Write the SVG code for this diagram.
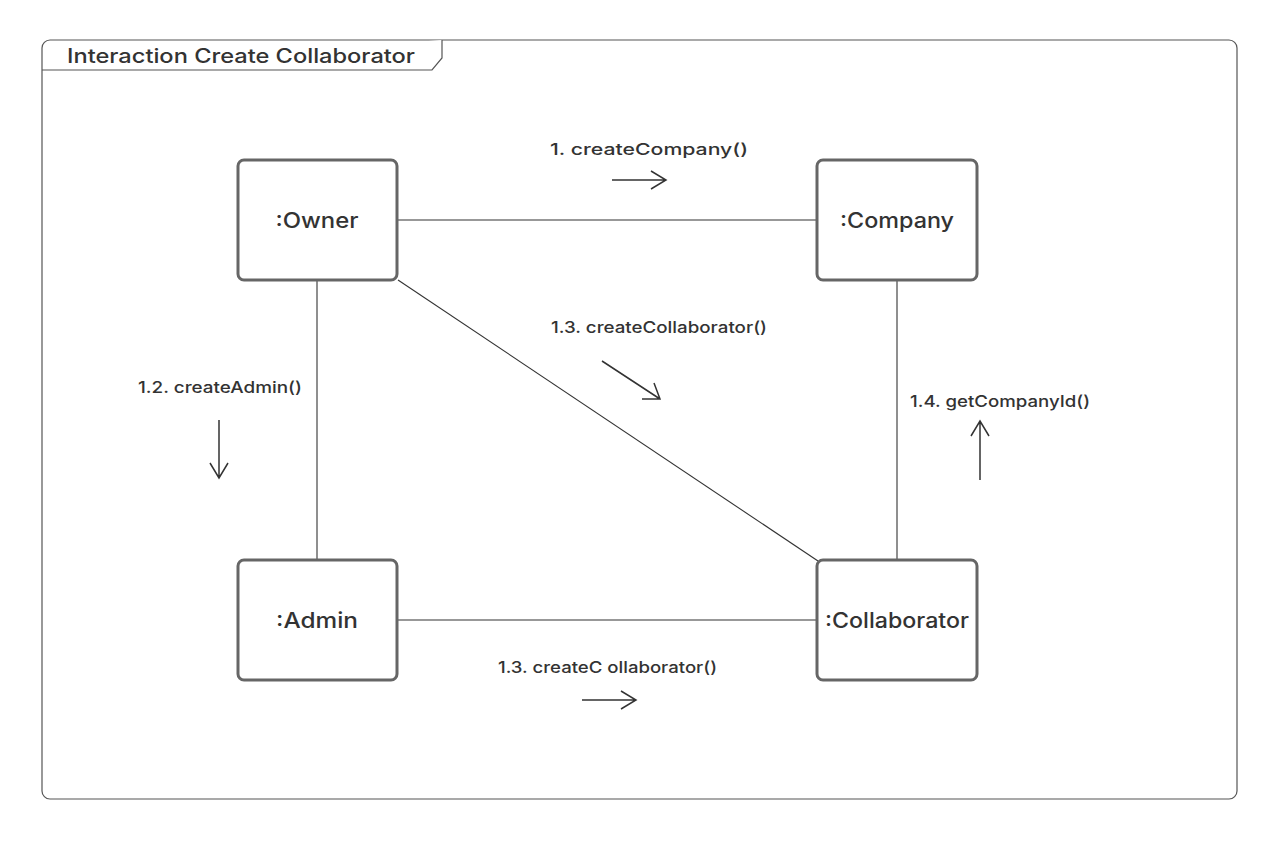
<svg xmlns="http://www.w3.org/2000/svg" width="1280" height="852" viewBox="0 0 1280 852">
<defs>
<style>
.frame{fill:#fff;stroke:#555;stroke-width:1.2}
.node{fill:#fff;stroke:#666;stroke-width:3}
.conn{stroke:#333;stroke-width:1.1;fill:none}
.arr{stroke:#333;stroke-width:1.5;fill:none}
.t{font-family:Inter,"Liberation Sans",sans-serif;fill:#333;font-weight:500}
.title{font-size:20px}
.nt{font-size:21px;text-anchor:middle}
.lbl{font-size:16px}
</style>
</defs>
<rect width="1280" height="852" fill="#fff"/>
<g id="frame">
<rect class="frame" x="42" y="40" width="1195" height="759" rx="8"/>
<path class="frame" d="M42,70 L432,70 L442,58 L442,40" fill="none"/>
<text class="t title" x="67" y="63" textLength="348" lengthAdjust="spacingAndGlyphs">Interaction Create Collaborator</text>
</g>
<g id="connectors">
<line class="conn" x1="397" y1="220" x2="817" y2="220"/>
<line class="conn" x1="317" y1="280" x2="317" y2="560"/>
<line class="conn" x1="897" y1="280" x2="897" y2="560"/>
<line class="conn" x1="397" y1="620" x2="817" y2="620"/>
<line class="conn" x1="398" y1="280" x2="818" y2="561"/>
</g>
<g id="owner">
<rect class="node" x="238" y="160" width="159" height="120" rx="6"/>
<text class="t nt" x="317" y="228" textLength="83" lengthAdjust="spacingAndGlyphs">:Owner</text>
</g>
<g id="company">
<rect class="node" x="817" y="160" width="160" height="120" rx="6"/>
<text class="t nt" x="897" y="228" textLength="114" lengthAdjust="spacingAndGlyphs">:Company</text>
</g>
<g id="admin">
<rect class="node" x="238" y="560" width="159" height="120" rx="6"/>
<text class="t nt" x="317" y="628" textLength="82" lengthAdjust="spacingAndGlyphs">:Admin</text>
</g>
<g id="collaborator">
<rect class="node" x="817" y="560" width="160" height="120" rx="6"/>
<text class="t nt" x="897" y="628" textLength="144" lengthAdjust="spacingAndGlyphs">:Collaborator</text>
</g>
<g id="messages">
<text class="t lbl" x="550" y="155" textLength="198" lengthAdjust="spacingAndGlyphs">1. createCompany()</text>
<path class="arr" d="M612,180 L666,180 M651,171 L666,180 L651,189"/>
<text class="t lbl" x="551" y="333" textLength="216" lengthAdjust="spacingAndGlyphs">1.3. createCollaborator()</text>
<path class="arr" d="M602,361 L660,399 M642,399 L660,399 L654,383"/>
<text class="t lbl" x="138" y="393" textLength="164" lengthAdjust="spacingAndGlyphs">1.2. createAdmin()</text>
<path class="arr" d="M219,420 L219,478 M210,463 L219,478 L228,463"/>
<text class="t lbl" x="910" y="407" textLength="180" lengthAdjust="spacingAndGlyphs">1.4. getCompanyId()</text>
<path class="arr" d="M980,480 L980,421 M971,436 L980,421 L989,436"/>
<text class="t lbl" x="498" y="673" textLength="219" lengthAdjust="spacingAndGlyphs">1.3. createC ollaborator()</text>
<path class="arr" d="M582,700 L636,700 M621,691 L636,700 L621,709"/>
</g>
</svg>
